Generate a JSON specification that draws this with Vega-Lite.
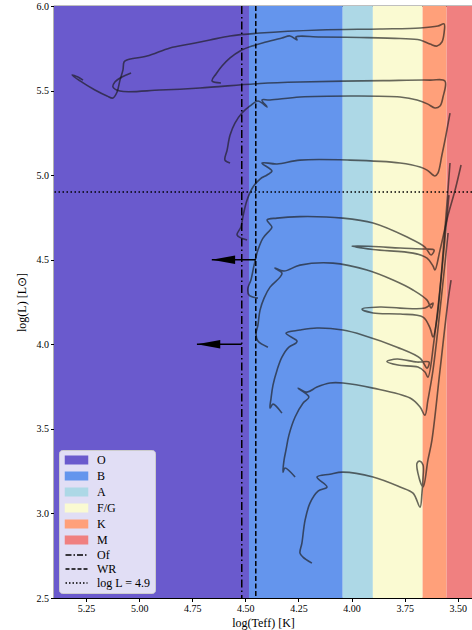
{
  "$schema": "https://vega.github.io/schema/vega-lite/v6.json",
  "width": 418,
  "height": 592,
  "autosize": {"type": "none"},
  "padding": {"left": 54, "top": 6, "right": 0, "bottom": 32},
  "background": "white",
  "config": {
    "font": "Liberation Serif",
    "view": {"stroke": "black", "strokeWidth": 1.2},
    "axis": {
      "domainColor": "black", "tickColor": "black", "labelColor": "black", "titleColor": "black",
      "labelFont": "Liberation Serif", "titleFont": "Liberation Serif",
      "labelFontSize": 10, "titleFontSize": 12, "titleFontWeight": "normal",
      "grid": false, "tickSize": 3.5, "labelPadding": 2
    }
  },
  "datasets": {
    "bands": [
      {"type": "O", "x1": 5.4006, "x2": 4.483},
      {"type": "B", "x1": 4.483, "x2": 4.042},
      {"type": "A", "x1": 4.042, "x2": 3.900},
      {"type": "F/G", "x1": 3.900, "x2": 3.666},
      {"type": "K", "x1": 3.666, "x2": 3.553},
      {"type": "M", "x1": 3.553, "x2": 3.4335}
    ],
    "vlines": [
      {"type": "Of", "x": 4.517},
      {"type": "WR", "x": 4.451}
    ],
    "hline": [
      {"type": "log L = 4.9", "y": 4.9}
    ],
    "arrows": [
      {"base": 4.451, "tip": 4.658, "L": 4.5},
      {"base": 4.517, "tip": 4.728, "L": 4.0}
    ],
    "tracks": [
      {"t":1,"i":0,"T":4.615,"L":5.545},{"t":1,"i":1,"T":4.657,"L":5.557},{"t":1,"i":2,"T":4.638,"L":5.598},{"t":1,"i":3,"T":4.610,"L":5.645},
      {"t":1,"i":4,"T":4.572,"L":5.693},{"t":1,"i":5,"T":4.525,"L":5.734},{"t":1,"i":6,"T":4.469,"L":5.763},{"t":1,"i":7,"T":4.403,"L":5.787},
      {"t":1,"i":8,"T":4.328,"L":5.811},{"t":1,"i":9,"T":4.290,"L":5.823},{"t":1,"i":10,"T":4.257,"L":5.799},{"t":1,"i":11,"T":4.262,"L":5.817},
      {"t":1,"i":12,"T":4.149,"L":5.817},{"t":1,"i":13,"T":3.961,"L":5.814},{"t":1,"i":14,"T":3.772,"L":5.808},{"t":1,"i":15,"T":3.678,"L":5.799},
      {"t":1,"i":16,"T":3.631,"L":5.775},{"t":1,"i":17,"T":3.598,"L":5.763},{"t":1,"i":18,"T":3.575,"L":5.787},{"t":1,"i":19,"T":3.565,"L":5.840},
      {"t":1,"i":20,"T":3.565,"L":5.894},{"t":1,"i":21,"T":3.594,"L":5.882},{"t":1,"i":22,"T":3.678,"L":5.870},{"t":1,"i":23,"T":3.867,"L":5.864},
      {"t":1,"i":24,"T":4.149,"L":5.858},{"t":1,"i":25,"T":4.431,"L":5.840},{"t":1,"i":26,"T":4.572,"L":5.823},{"t":1,"i":27,"T":4.667,"L":5.799},
      {"t":1,"i":28,"T":4.761,"L":5.775},{"t":1,"i":29,"T":4.855,"L":5.752},{"t":1,"i":30,"T":4.963,"L":5.704},{"t":1,"i":31,"T":5.057,"L":5.681},
      {"t":1,"i":32,"T":5.071,"L":5.669},{"t":1,"i":33,"T":5.076,"L":5.622},{"t":1,"i":34,"T":5.090,"L":5.562},{"t":1,"i":35,"T":5.104,"L":5.491},
      {"t":1,"i":36,"T":5.123,"L":5.456},{"t":1,"i":37,"T":5.151,"L":5.468},{"t":1,"i":38,"T":5.208,"L":5.503},{"t":1,"i":39,"T":5.278,"L":5.557},
      {"t":1,"i":40,"T":5.316,"L":5.592},{"t":1,"i":41,"T":5.288,"L":5.580},{"t":1,"i":42,"T":5.264,"L":5.562},

      {"t":2,"i":0,"T":4.572,"L":5.072},{"t":2,"i":1,"T":4.596,"L":5.089},{"t":2,"i":2,"T":4.586,"L":5.148},{"t":2,"i":3,"T":4.572,"L":5.237},
      {"t":2,"i":4,"T":4.549,"L":5.308},{"t":2,"i":5,"T":4.516,"L":5.367},{"t":2,"i":6,"T":4.478,"L":5.409},{"t":2,"i":7,"T":4.441,"L":5.438},
      {"t":2,"i":8,"T":4.398,"L":5.403},{"t":2,"i":9,"T":4.422,"L":5.444},{"t":2,"i":10,"T":4.384,"L":5.444},{"t":2,"i":11,"T":4.243,"L":5.462},
      {"t":2,"i":12,"T":4.008,"L":5.468},{"t":2,"i":13,"T":3.772,"L":5.462},{"t":2,"i":14,"T":3.692,"L":5.444},{"t":2,"i":15,"T":3.641,"L":5.420},
      {"t":2,"i":16,"T":3.608,"L":5.397},{"t":2,"i":17,"T":3.584,"L":5.409},{"t":2,"i":18,"T":3.570,"L":5.462},{"t":2,"i":19,"T":3.561,"L":5.557},
      {"t":2,"i":20,"T":3.631,"L":5.562},{"t":2,"i":21,"T":3.852,"L":5.559},{"t":2,"i":22,"T":4.243,"L":5.551},{"t":2,"i":23,"T":4.431,"L":5.542},
      {"t":2,"i":24,"T":4.714,"L":5.515},{"t":2,"i":25,"T":4.902,"L":5.503},{"t":2,"i":26,"T":5.090,"L":5.497},{"t":2,"i":27,"T":5.123,"L":5.521},
      {"t":2,"i":28,"T":5.114,"L":5.551},{"t":2,"i":29,"T":5.081,"L":5.580},{"t":2,"i":30,"T":5.038,"L":5.604},

      {"t":3,"i":0,"T":4.492,"L":4.616},{"t":3,"i":1,"T":4.539,"L":4.646},{"t":3,"i":2,"T":4.521,"L":4.693},{"t":3,"i":3,"T":4.511,"L":4.758},
      {"t":3,"i":4,"T":4.492,"L":4.853},{"t":3,"i":5,"T":4.464,"L":4.930},{"t":3,"i":6,"T":4.431,"L":4.977},{"t":3,"i":7,"T":4.398,"L":5.001},
      {"t":3,"i":8,"T":4.375,"L":5.024},{"t":3,"i":9,"T":4.422,"L":5.072},{"t":3,"i":10,"T":4.351,"L":5.066},{"t":3,"i":11,"T":4.243,"L":5.089},
      {"t":3,"i":12,"T":4.008,"L":5.089},{"t":3,"i":13,"T":3.772,"L":5.072},{"t":3,"i":14,"T":3.678,"L":5.048},{"t":3,"i":15,"T":3.645,"L":5.030},
      {"t":3,"i":16,"T":3.608,"L":4.995},{"t":3,"i":17,"T":3.594,"L":5.012},{"t":3,"i":18,"T":3.575,"L":5.119},{"t":3,"i":19,"T":3.556,"L":5.237},
      {"t":3,"i":20,"T":3.537,"L":5.367},

      {"t":4,"i":0,"T":4.441,"L":4.273},{"t":4,"i":1,"T":4.483,"L":4.291},{"t":4,"i":2,"T":4.488,"L":4.332},{"t":4,"i":3,"T":4.474,"L":4.380},
      {"t":4,"i":4,"T":4.459,"L":4.468},{"t":4,"i":5,"T":4.441,"L":4.557},{"t":4,"i":6,"T":4.417,"L":4.628},{"t":4,"i":7,"T":4.384,"L":4.675},
      {"t":4,"i":8,"T":4.375,"L":4.693},{"t":4,"i":9,"T":4.398,"L":4.735},{"t":4,"i":10,"T":4.351,"L":4.746},{"t":4,"i":11,"T":4.243,"L":4.755},
      {"t":4,"i":12,"T":4.041,"L":4.746},{"t":4,"i":13,"T":3.899,"L":4.717},{"t":4,"i":14,"T":3.739,"L":4.634},{"t":4,"i":15,"T":3.655,"L":4.575},
      {"t":4,"i":16,"T":3.626,"L":4.528},{"t":4,"i":17,"T":3.612,"L":4.557},{"t":4,"i":18,"T":3.655,"L":4.563},{"t":4,"i":19,"T":3.772,"L":4.569},
      {"t":4,"i":20,"T":3.899,"L":4.578},{"t":4,"i":21,"T":3.998,"L":4.581},{"t":4,"i":22,"T":3.899,"L":4.560},{"t":4,"i":23,"T":3.711,"L":4.539},
      {"t":4,"i":24,"T":3.645,"L":4.510},{"t":4,"i":25,"T":3.617,"L":4.463},{"t":4,"i":26,"T":3.608,"L":4.439},{"t":4,"i":27,"T":3.584,"L":4.557},
      {"t":4,"i":28,"T":3.546,"L":4.764},{"t":4,"i":29,"T":3.513,"L":4.912},{"t":4,"i":30,"T":3.485,"L":5.060},

      {"t":5,"i":0,"T":4.394,"L":3.983},{"t":5,"i":1,"T":4.441,"L":4.019},{"t":5,"i":2,"T":4.450,"L":4.060},{"t":5,"i":3,"T":4.441,"L":4.114},
      {"t":5,"i":4,"T":4.431,"L":4.202},{"t":5,"i":5,"T":4.412,"L":4.273},{"t":5,"i":6,"T":4.384,"L":4.338},{"t":5,"i":7,"T":4.337,"L":4.397},
      {"t":5,"i":8,"T":4.328,"L":4.421},{"t":5,"i":9,"T":4.361,"L":4.451},{"t":5,"i":10,"T":4.318,"L":4.433},{"t":5,"i":11,"T":4.243,"L":4.468},
      {"t":5,"i":12,"T":4.088,"L":4.480},{"t":5,"i":13,"T":3.928,"L":4.439},{"t":5,"i":14,"T":3.805,"L":4.380},{"t":5,"i":15,"T":3.711,"L":4.321},
      {"t":5,"i":16,"T":3.645,"L":4.261},{"t":5,"i":17,"T":3.626,"L":4.214},{"t":5,"i":18,"T":3.617,"L":4.244},{"t":5,"i":19,"T":3.655,"L":4.214},
      {"t":5,"i":20,"T":3.772,"L":4.214},{"t":5,"i":21,"T":3.867,"L":4.220},{"t":5,"i":22,"T":3.951,"L":4.208},{"t":5,"i":23,"T":3.899,"L":4.185},
      {"t":5,"i":24,"T":3.772,"L":4.179},{"t":5,"i":25,"T":3.664,"L":4.161},{"t":5,"i":26,"T":3.631,"L":4.096},{"t":5,"i":27,"T":3.617,"L":4.043},
      {"t":5,"i":28,"T":3.598,"L":4.155},{"t":5,"i":29,"T":3.565,"L":4.616},{"t":5,"i":30,"T":3.537,"L":5.072},

      {"t":6,"i":0,"T":4.328,"L":3.593},{"t":6,"i":1,"T":4.370,"L":3.646},{"t":6,"i":2,"T":4.384,"L":3.623},{"t":6,"i":3,"T":4.379,"L":3.682},
      {"t":6,"i":4,"T":4.370,"L":3.759},{"t":6,"i":5,"T":4.351,"L":3.847},{"t":6,"i":6,"T":4.328,"L":3.924},{"t":6,"i":7,"T":4.295,"L":3.983},
      {"t":6,"i":8,"T":4.262,"L":4.007},{"t":6,"i":9,"T":4.257,"L":4.019},{"t":6,"i":10,"T":4.309,"L":4.066},{"t":6,"i":11,"T":4.243,"L":4.084},
      {"t":6,"i":12,"T":4.163,"L":4.096},{"t":6,"i":13,"T":4.041,"L":4.084},{"t":6,"i":14,"T":3.946,"L":4.054},{"t":6,"i":15,"T":3.786,"L":3.983},
      {"t":6,"i":16,"T":3.678,"L":3.918},{"t":6,"i":17,"T":3.645,"L":3.859},{"t":6,"i":18,"T":3.636,"L":3.895},{"t":6,"i":19,"T":3.692,"L":3.895},
      {"t":6,"i":20,"T":3.786,"L":3.913},{"t":6,"i":21,"T":3.834,"L":3.898},{"t":6,"i":22,"T":3.782,"L":3.877},{"t":6,"i":23,"T":3.688,"L":3.865},
      {"t":6,"i":24,"T":3.655,"L":3.836},{"t":6,"i":25,"T":3.641,"L":3.806},{"t":6,"i":26,"T":3.612,"L":4.025},{"t":6,"i":27,"T":3.575,"L":4.439},
      {"t":6,"i":28,"T":3.542,"L":4.882},

      {"t":7,"i":0,"T":4.266,"L":3.215},{"t":7,"i":1,"T":4.314,"L":3.268},{"t":7,"i":2,"T":4.323,"L":3.244},{"t":7,"i":3,"T":4.318,"L":3.315},
      {"t":7,"i":4,"T":4.309,"L":3.374},{"t":7,"i":5,"T":4.295,"L":3.463},{"t":7,"i":6,"T":4.266,"L":3.570},{"t":7,"i":7,"T":4.229,"L":3.652},
      {"t":7,"i":8,"T":4.201,"L":3.688},{"t":7,"i":9,"T":4.252,"L":3.741},{"t":7,"i":10,"T":4.210,"L":3.717},{"t":7,"i":11,"T":4.163,"L":3.747},
      {"t":7,"i":12,"T":4.102,"L":3.771},{"t":7,"i":13,"T":4.041,"L":3.771},{"t":7,"i":14,"T":3.899,"L":3.741},{"t":7,"i":15,"T":3.725,"L":3.682},
      {"t":7,"i":16,"T":3.678,"L":3.629},{"t":7,"i":17,"T":3.655,"L":3.581},{"t":7,"i":18,"T":3.641,"L":3.670},{"t":7,"i":19,"T":3.617,"L":3.847},
      {"t":7,"i":20,"T":3.579,"L":4.261},{"t":7,"i":21,"T":3.546,"L":4.658},

      {"t":8,"i":0,"T":4.187,"L":2.706},{"t":8,"i":1,"T":4.229,"L":2.742},{"t":8,"i":2,"T":4.243,"L":2.765},{"t":8,"i":3,"T":4.234,"L":2.824},
      {"t":8,"i":4,"T":4.219,"L":2.960},{"t":8,"i":5,"T":4.196,"L":3.061},{"t":8,"i":6,"T":4.158,"L":3.132},{"t":8,"i":7,"T":4.116,"L":3.156},
      {"t":8,"i":8,"T":4.163,"L":3.215},{"t":8,"i":9,"T":4.102,"L":3.232},{"t":8,"i":10,"T":4.041,"L":3.244},{"t":8,"i":11,"T":3.899,"L":3.215},
      {"t":8,"i":12,"T":3.772,"L":3.156},{"t":8,"i":13,"T":3.711,"L":3.120},{"t":8,"i":14,"T":3.678,"L":3.037},{"t":8,"i":15,"T":3.669,"L":3.120},
      {"t":8,"i":16,"T":3.664,"L":3.209},{"t":8,"i":17,"T":3.664,"L":3.286},{"t":8,"i":18,"T":3.678,"L":3.309},{"t":8,"i":19,"T":3.692,"L":3.298},
      {"t":8,"i":20,"T":3.688,"L":3.238},{"t":8,"i":21,"T":3.664,"L":3.156},{"t":8,"i":22,"T":3.641,"L":3.315},{"t":8,"i":23,"T":3.622,"L":3.434},
      {"t":8,"i":24,"T":3.584,"L":3.847},{"t":8,"i":25,"T":3.546,"L":4.261},{"t":8,"i":26,"T":3.532,"L":4.380}
    ]
  },
  "layer": [
    {
      "data": {"name": "bands"},
      "mark": {"type": "rect"},
      "encoding": {
        "x": {
          "field": "x1", "type": "quantitative",
          "scale": {"domain": [3.4335, 5.4006], "reverse": true, "nice": false, "zero": false},
          "axis": {"values": [5.25, 5.0, 4.75, 4.5, 4.25, 4.0, 3.75, 3.5], "format": ".2f", "title": "log(Teff) [K]", "titlePadding": 4}
        },
        "x2": {"field": "x2"},
        "color": {
          "field": "type", "type": "nominal",
          "scale": {
            "domain": ["O", "B", "A", "F/G", "K", "M", "Of", "WR", "log L = 4.9"],
            "range": ["#6a5acd", "#6495ed", "#add8e6", "#fafad2", "#ffa07a", "#f08080", "black", "black", "black"]
          },
          "legend": {
            "title": null,
            "orient": "none", "legendX": 5, "legendY": 444,
            "direction": "vertical", "columns": 1,
            "fillColor": "rgba(255,255,255,0.8)", "strokeColor": "#cccccc", "cornerRadius": 3, "padding": 4,
            "symbolSize": 49, "symbolStrokeWidth": 1.5,
            "labelFont": "Liberation Serif", "labelFontSize": 12, "labelColor": "black", "labelOffset": 22,
            "rowPadding": 2,
            "encode": {
              "symbols": {
                "update": {
                  "shape": {"signal": "indexof(['Of','WR','log L = 4.9'], datum.value) >= 0 ? 'M-1,0H5.29' : 'M-1,-1.1H5.29V1.1H-1Z'"},
                  "fill": {"signal": "indexof(['Of','WR','log L = 4.9'], datum.value) >= 0 ? 'transparent' : scale('color', datum.value)"},
                  "stroke": {"signal": "indexof(['Of','WR','log L = 4.9'], datum.value) >= 0 ? 'black' : 'transparent'"},
                  "strokeWidth": {"value": 1.5},
                  "strokeDash": {"signal": "datum.value === 'Of' ? [6,2,1.5,2] : datum.value === 'WR' ? [4,2] : datum.value === 'log L = 4.9' ? [1.5,2] : [1,0]"},
                  "opacity": {"value": 1}
                }
              }
            }
          }
        }
      }
    },
    {
      "data": {"name": "tracks"},
      "mark": {"type": "line", "stroke": "#1a1a1a", "strokeWidth": 1.6, "opacity": 0.65, "interpolate": "catmull-rom"},
      "encoding": {
        "x": {"field": "T", "type": "quantitative"},
        "y": {
          "field": "L", "type": "quantitative",
          "scale": {"domain": [2.5, 6.0], "nice": false, "zero": false},
          "axis": {"values": [2.5, 3.0, 3.5, 4.0, 4.5, 5.0, 5.5, 6.0], "format": ".1f", "title": "log(L) [L⊙]", "titlePadding": 8}
        },
        "detail": {"field": "t", "type": "nominal"},
        "order": {"field": "i", "type": "quantitative"}
      }
    },
    {
      "data": {"name": "vlines"},
      "mark": {"type": "rule", "strokeWidth": 1.5},
      "encoding": {
        "x": {"field": "x", "type": "quantitative"},
        "color": {"field": "type", "type": "nominal"},
        "strokeDash": {
          "field": "type", "type": "nominal",
          "scale": {"domain": ["Of", "WR"], "range": [[8, 3, 1.5, 3], [5, 2.5]]},
          "legend": null
        }
      }
    },
    {
      "data": {"name": "hline"},
      "mark": {"type": "rule", "strokeWidth": 1.5, "strokeDash": [1.5, 2.5]},
      "encoding": {
        "y": {"field": "y", "type": "quantitative"},
        "color": {"field": "type", "type": "nominal"}
      }
    },
    {
      "data": {"name": "arrows"},
      "mark": {"type": "rule", "strokeWidth": 1.5, "color": "black"},
      "encoding": {
        "x": {"field": "base", "type": "quantitative"},
        "x2": {"field": "tip"},
        "y": {"field": "L", "type": "quantitative"}
      }
    },
    {
      "data": {"name": "arrows"},
      "mark": {"type": "point", "shape": "M0,0L2,-0.36L2,0.36Z", "filled": true, "color": "black", "opacity": 1, "size": 543, "strokeWidth": 0},
      "encoding": {
        "x": {"field": "tip", "type": "quantitative"},
        "y": {"field": "L", "type": "quantitative"}
      }
    }
  ]
}
